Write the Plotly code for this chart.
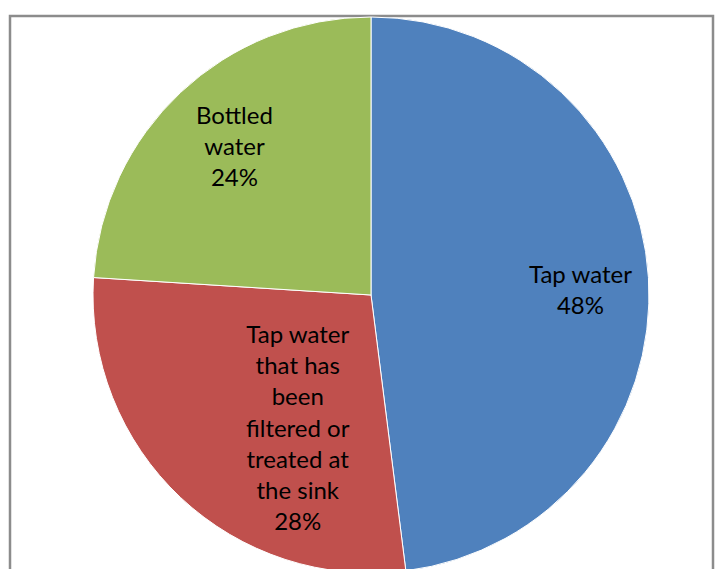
import plotly.graph_objects as go

labels = ["Tap water", "Tap water<br>that has<br>been<br>filtered or<br>treated at<br>the sink", "Bottled<br>water"]
values = [48, 28, 24]
colors = ["#4F81BD", "#C0504D", "#9BBB59"]
label_px = [(580, 289), (298, 427), (234, 145)]

W, H = 718, 600
cx, cy, r = 371, 295, 278

fig = go.Figure(go.Pie(
    labels=labels,
    values=values,
    sort=False,
    direction="clockwise",
    rotation=0,
    marker=dict(colors=colors, line=dict(color="white", width=1)),
    textinfo="none",
    domain=dict(x=[(cx - r) / W, (cx + r) / W], y=[1 - (cy + r) / H, 1 - (cy - r) / H]),
    hoverinfo="label+percent",
    showlegend=False,
))

for lab, val, (px, py) in zip(labels, values, label_px):
    fig.add_annotation(
        x=px / W, y=1 - py / H, xref="paper", yref="paper",
        text=f"{lab}<br>{val}%", showarrow=False,
        font=dict(family="Lato", size=24, color="black"),
        align="center", xanchor="center", yanchor="middle",
    )

fig.add_shape(type="rect", xref="paper", yref="paper",
              x0=10 / W, x1=713 / W, y0=-0.2, y1=1 - 16 / H,
              line=dict(color="#8C8C8C", width=2.5), fillcolor="rgba(0,0,0,0)", layer="below")

fig.update_layout(
    width=W, height=H,
    margin=dict(l=0, r=0, t=0, b=0),
    paper_bgcolor="white",
    plot_bgcolor="white",
)

fig.write_html("out.html", config={"displayModeBar": False},
               post_script="document.documentElement.style.overflow='hidden';document.body.style.overflow='hidden';document.body.style.margin='0';")
